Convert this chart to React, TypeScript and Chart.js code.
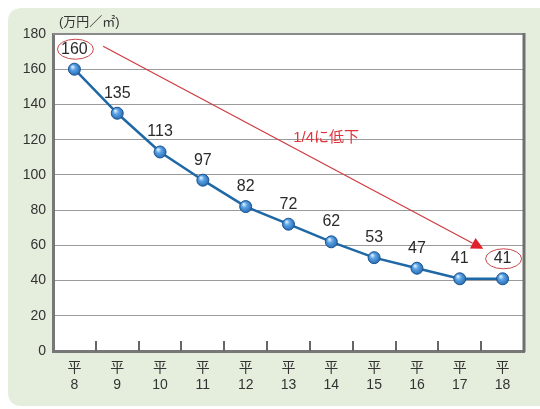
import React, { useEffect, useRef } from "react";
import { Chart, registerables } from "chart.js";

Chart.register(...registerables);

const yearNumbers = ["8", "9", "10", "11", "12", "13", "14", "15", "16", "17", "18"];
const eraPrefix = "平";
const prices = [160, 135, 113, 97, 82, 72, 62, 53, 47, 41, 41];
const yTicks = [0, 20, 40, 60, 80, 100, 120, 140, 160, 180];
const unitLabel = "(万円／㎡)";
const annotationText = "1/4に低下";
const arrowFrom = { index: 0.67, value: 173 };
const arrowTo = { index: 9.55, value: 58 };
const annotationPos = { index: 5.88, value: 121 };
const circledIndexes = [0, 10];

const FONT = '"Liberation Sans", Arial, "Noto Sans CJK JP", sans-serif';
const JFONT = '"Liberation Sans", "Noto Sans CJK JP", sans-serif';

const decorPlugin = {
  id: "decor",
  beforeDraw(chart: any) {
    const { ctx, width, height, chartArea } = chart;
    ctx.save();
    ctx.fillStyle = "#ffffff";
    ctx.fillRect(0, 0, width, height);
    const x0 = 8, y0 = 8, x1 = width + 20, y1 = height - 3, r = 14;
    ctx.fillStyle = "#e5eedd";
    ctx.beginPath();
    ctx.moveTo(x0 + r, y0);
    ctx.lineTo(x1, y0);
    ctx.lineTo(x1, y1);
    ctx.lineTo(x0 + r, y1);
    ctx.quadraticCurveTo(x0, y1, x0, y1 - r);
    ctx.lineTo(x0, y0 + r);
    ctx.quadraticCurveTo(x0, y0, x0 + r, y0);
    ctx.fill();
    ctx.fillStyle = "#ffffff";
    ctx.fillRect(chartArea.left, chartArea.top, chartArea.right - chartArea.left, chartArea.bottom - chartArea.top);
    ctx.restore();
  },
  afterDraw(chart: any) {
    const { ctx, chartArea } = chart;
    const xs = chart.scales.x;
    const ys = chart.scales.y;
    ctx.save();
    ctx.strokeStyle = "#8a8a8a";
    ctx.lineWidth = 2;
    ctx.beginPath();
    ctx.moveTo(chartArea.left, chartArea.top);
    ctx.lineTo(chartArea.right, chartArea.top);
    ctx.stroke();
    ctx.strokeStyle = "#6f6f6f";
    ctx.lineWidth = 3;
    ctx.beginPath();
    ctx.moveTo(chartArea.right, chartArea.top - 1);
    ctx.lineTo(chartArea.right, chartArea.bottom + 1);
    ctx.stroke();
    ctx.strokeStyle = "#666";
    ctx.lineWidth = 2;
    for (let i = 0; i < prices.length - 1; i++) {
      const px = Math.round(xs.getPixelForValue(i + 0.5));
      ctx.beginPath();
      ctx.moveTo(px, chartArea.bottom);
      ctx.lineTo(px, chartArea.bottom - 10);
      ctx.stroke();
    }
    ctx.fillStyle = "#333";
    ctx.font = `13px ${JFONT}`;
    ctx.textAlign = "left";
    ctx.textBaseline = "middle";
    ctx.fillText(unitLabel, chartArea.left + 6, chartArea.top - 12);

    const ax0 = xs.getPixelForValue(arrowFrom.index);
    const ay0 = ys.getPixelForValue(arrowFrom.value);
    const ax1 = xs.getPixelForValue(arrowTo.index);
    const ay1 = ys.getPixelForValue(arrowTo.value);
    const ang = Math.atan2(ay1 - ay0, ax1 - ax0);
    const headLen = 12, headW = 6;
    ctx.strokeStyle = "#cf3a40";
    ctx.lineWidth = 1.2;
    ctx.beginPath();
    ctx.moveTo(ax0, ay0);
    ctx.lineTo(ax1 - Math.cos(ang) * headLen, ay1 - Math.sin(ang) * headLen);
    ctx.stroke();
    ctx.fillStyle = "#e0202a";
    ctx.beginPath();
    ctx.moveTo(ax1, ay1);
    const bx = ax1 - Math.cos(ang) * headLen;
    const by = ay1 - Math.sin(ang) * headLen;
    ctx.lineTo(bx + Math.sin(ang) * headW, by - Math.cos(ang) * headW);
    ctx.lineTo(bx - Math.sin(ang) * headW, by + Math.cos(ang) * headW);
    ctx.closePath();
    ctx.fill();

    ctx.fillStyle = "#e0343c";
    ctx.font = `15px ${JFONT}`;
    ctx.textAlign = "center";
    ctx.textBaseline = "middle";
    ctx.fillText(annotationText, xs.getPixelForValue(annotationPos.index), ys.getPixelForValue(annotationPos.value));

    const meta = chart.getDatasetMeta(0);
    meta.data.forEach((pt: any, i: number) => {
      const { x, y } = pt;
      const g = ctx.createRadialGradient(x - 2, y - 2.5, 0.5, x, y, 7);
      g.addColorStop(0, "#d6ecff");
      g.addColorStop(0.35, "#5aa2e6");
      g.addColorStop(1, "#1f62a8");
      ctx.fillStyle = g;
      ctx.beginPath();
      ctx.arc(x, y, 6, 0, Math.PI * 2);
      ctx.fill();
      ctx.strokeStyle = "#1d5592";
      ctx.lineWidth = 1;
      ctx.stroke();

      const ly = y - 20;
      ctx.fillStyle = "#2a2a2a";
      ctx.font = `16px ${FONT}`;
      ctx.textAlign = "center";
      ctx.textBaseline = "middle";
      ctx.fillText(String(prices[i]), x, ly);
      if (circledIndexes.includes(i)) {
        ctx.strokeStyle = "#c8484c";
        ctx.lineWidth = 1;
        ctx.beginPath();
        ctx.ellipse(x + 1, ly, 18, 10, 0, 0, Math.PI * 2);
        ctx.stroke();
      }
    });
    ctx.restore();
  },
};

export default function App() {
  const ref = useRef<HTMLCanvasElement | null>(null);
  useEffect(() => {
    if (!ref.current) return;
    const chart = new Chart(ref.current, {
      type: "line",
      data: {
        labels: yearNumbers.map((n) => [eraPrefix, n]),
        datasets: [
          {
            data: prices,
            borderColor: "#1f68a6",
            borderWidth: 2.5,
            pointRadius: 0,
            pointHoverRadius: 0,
            tension: 0,
            fill: false,
          },
        ],
      },
      options: {
        animation: false,
        responsive: false,
        maintainAspectRatio: false,
        events: [],
        layout: { padding: { left: 0, right: 16, top: 34, bottom: 0 } },
        plugins: { legend: { display: false }, tooltip: { enabled: false } },
        scales: {
          x: {
            type: "category",
            offset: true,
            grid: { display: false, drawTicks: false },
            border: { display: true, color: "#777", width: 3 },
            ticks: {
              color: "#333",
              font: { family: FONT, size: 14, lineHeight: 1.25 },
              padding: 8,
              maxRotation: 0,
              autoSkip: false,
            },
            afterFit(scale: any) {
              scale.height = 58;
            },
          },
          y: {
            min: 0,
            max: 180,
            afterBuildTicks(scale: any) {
              scale.ticks = yTicks.map((v) => ({ value: v }));
            },
            grid: { color: "#9a9a9a", lineWidth: 1, drawTicks: false },
            border: { display: true, color: "#777", width: 3 },
            ticks: {
              color: "#333",
              font: { family: FONT, size: 14 },
              padding: 7,
            },
            afterFit(scale: any) {
              scale.width = 53;
            },
          },
        },
      },
      plugins: [decorPlugin],
    } as any);
    return () => chart.destroy();
  }, []);
  return (
    <div style={{ position: "fixed", left: 0, top: 0, width: 540, height: 409 }}>
      <canvas ref={ref} width={540} height={409} style={{ width: 540, height: 409, display: "block" }} />
    </div>
  );
}
